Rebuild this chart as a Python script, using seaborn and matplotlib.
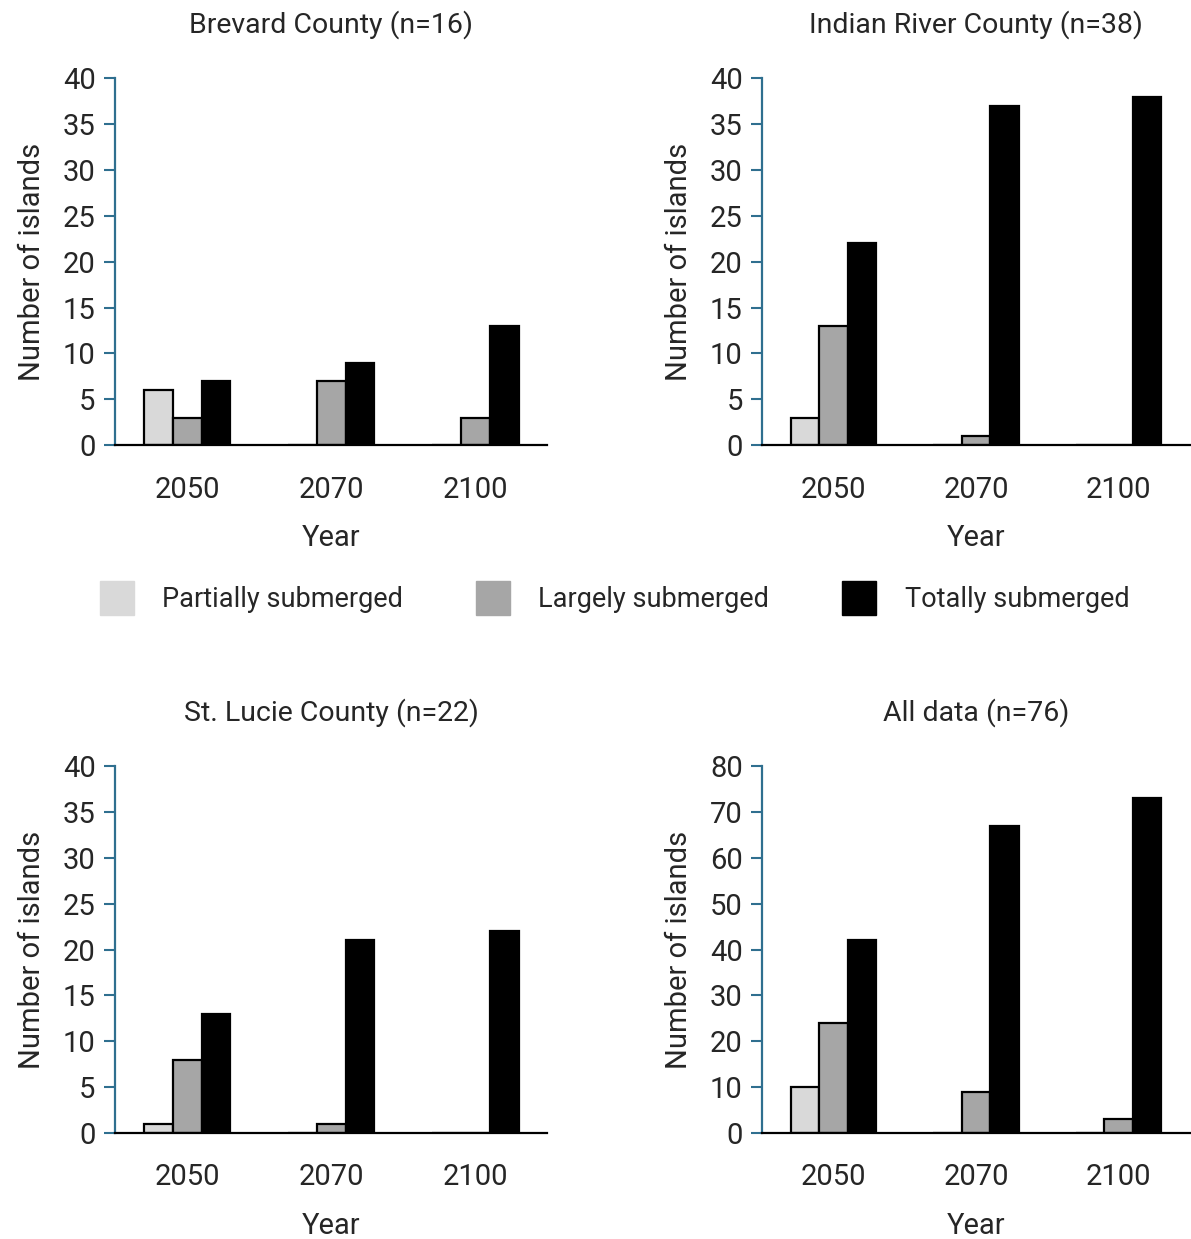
import numpy as np
import pandas as pd
import matplotlib.pyplot as plt
import seaborn as sns
from matplotlib.patches import Patch

years = ["2050", "2070", "2100"]
categories = ["Partially submerged", "Largely submerged", "Totally submerged"]
colors = ["#d9d9d9", "#a6a6a6", "#000000"]

brevard_partial = [6, 0, 0]
brevard_largely = [3, 7, 3]
brevard_total = [7, 9, 13]

indian_partial = [3, 0, 0]
indian_largely = [13, 1, 0]
indian_total = [22, 37, 38]

lucie_partial = [1, 0, 0]
lucie_largely = [8, 1, 0]
lucie_total = [13, 21, 22]

all_partial = [10, 0, 0]
all_largely = [24, 9, 3]
all_total = [42, 67, 73]

panels = [
    ("Brevard County (n=16)", [brevard_partial, brevard_largely, brevard_total], 40, 5),
    ("Indian River County (n=38)", [indian_partial, indian_largely, indian_total], 40, 5),
    ("St. Lucie County (n=22)", [lucie_partial, lucie_largely, lucie_total], 40, 5),
    ("All data (n=76)", [all_partial, all_largely, all_total], 80, 10),
]

sns.set_style("white")
plt.rcParams['font.family'] = ['Roboto', 'DejaVu Sans']

fig = plt.figure(figsize=(11.91, 12.39), dpi=100)
positions = [
    [0.0966, 0.6408, 0.363, 0.296],
    [0.640, 0.6408, 0.359, 0.296],
    [0.0966, 0.0856, 0.363, 0.296],
    [0.640, 0.0856, 0.359, 0.296],
]
axis_blue = "#2f6f8f"

for (title, series, ymax, step), pos in zip(panels, positions):
    ax = fig.add_axes(pos)
    rows = []
    for cat, vals in zip(categories, series):
        for yr, v in zip(years, vals):
            rows.append({"Year": yr, "Category": cat, "Count": v})
    df = pd.DataFrame(rows)
    sns.barplot(data=df, x="Year", y="Count", hue="Category", hue_order=categories,
                palette=colors, width=0.6, edgecolor="black", linewidth=1.6,
                legend=False, ax=ax)
    ax.set_ylim(0, ymax)
    ax.set_yticks(np.arange(0, ymax + 1, step))
    ax.set_xlim(-0.5, 2.5)
    ax.set_title(title, fontsize=20.5, pad=33)
    ax.set_xlabel("Year", fontsize=21, labelpad=15)
    ax.set_ylabel("Number of islands", fontsize=21, labelpad=12)
    ax.tick_params(axis="y", labelsize=21, length=8, width=1.5, color=axis_blue,
                   direction="out", left=True, pad=6)
    ax.tick_params(axis="x", labelsize=21, length=0, pad=22)
    for s in ["top", "right"]:
        ax.spines[s].set_visible(False)
    ax.spines["left"].set_color(axis_blue)
    ax.spines["left"].set_linewidth(1.6)
    ax.spines["bottom"].set_color("black")
    ax.spines["bottom"].set_linewidth(1.6)

handles = [Patch(facecolor=c, edgecolor=c) for c in colors]
fig.legend(handles, categories, loc="center", bbox_to_anchor=(0.516, 0.517), ncol=3,
           frameon=False, fontsize=19.5, handlelength=1.25, handleheight=1.55,
           columnspacing=2.7, handletextpad=1.05)

fig.savefig("out.png", dpi=100)
